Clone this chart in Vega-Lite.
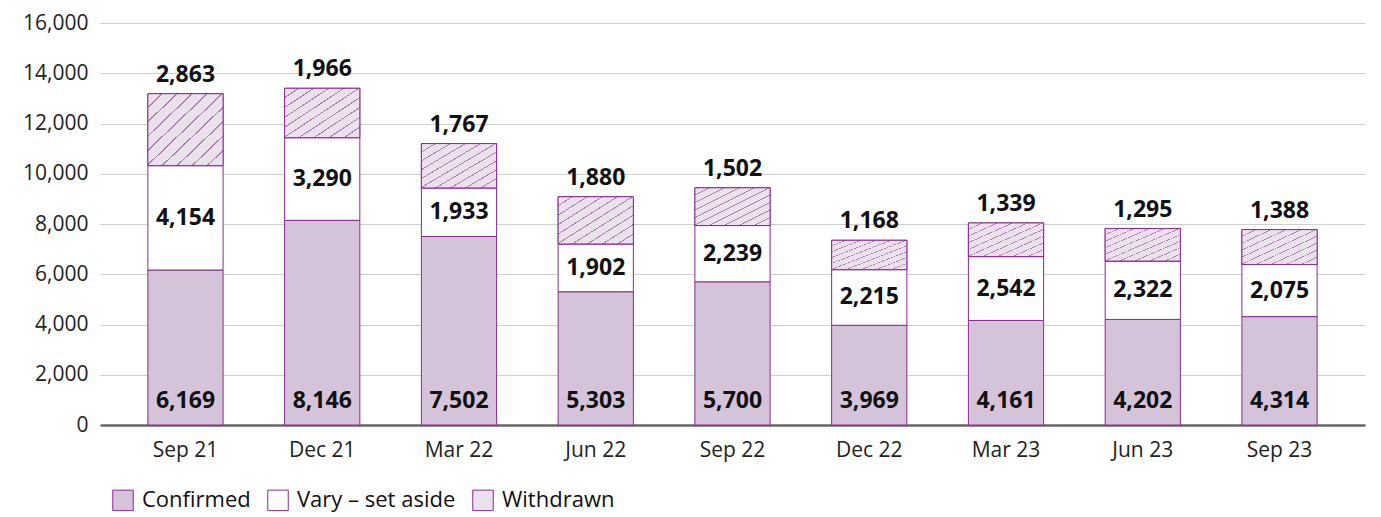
{
  "$schema": "https://vega.github.io/schema/vega-lite/v6.json",
  "width": 1265,
  "height": 402,
  "padding": {"left": 100, "top": 23, "right": 16, "bottom": 92},
  "autosize": {"type": "none"},
  "background": "white",
  "config": {
    "view": {"stroke": null},
    "font": "Open Sans"
  },
  "data": {
    "values": [
      {"quarter": "Sep 21", "series": "Confirmed", "value": 6169, "ord": 1},
      {"quarter": "Sep 21", "series": "Vary – set aside", "value": 4154, "ord": 2},
      {"quarter": "Sep 21", "series": "Withdrawn", "value": 2863, "ord": 3},
      {"quarter": "Dec 21", "series": "Confirmed", "value": 8146, "ord": 1},
      {"quarter": "Dec 21", "series": "Vary – set aside", "value": 3290, "ord": 2},
      {"quarter": "Dec 21", "series": "Withdrawn", "value": 1966, "ord": 3},
      {"quarter": "Mar 22", "series": "Confirmed", "value": 7502, "ord": 1},
      {"quarter": "Mar 22", "series": "Vary – set aside", "value": 1933, "ord": 2},
      {"quarter": "Mar 22", "series": "Withdrawn", "value": 1767, "ord": 3},
      {"quarter": "Jun 22", "series": "Confirmed", "value": 5303, "ord": 1},
      {"quarter": "Jun 22", "series": "Vary – set aside", "value": 1902, "ord": 2},
      {"quarter": "Jun 22", "series": "Withdrawn", "value": 1880, "ord": 3},
      {"quarter": "Sep 22", "series": "Confirmed", "value": 5700, "ord": 1},
      {"quarter": "Sep 22", "series": "Vary – set aside", "value": 2239, "ord": 2},
      {"quarter": "Sep 22", "series": "Withdrawn", "value": 1502, "ord": 3},
      {"quarter": "Dec 22", "series": "Confirmed", "value": 3969, "ord": 1},
      {"quarter": "Dec 22", "series": "Vary – set aside", "value": 2215, "ord": 2},
      {"quarter": "Dec 22", "series": "Withdrawn", "value": 1168, "ord": 3},
      {"quarter": "Mar 23", "series": "Confirmed", "value": 4161, "ord": 1},
      {"quarter": "Mar 23", "series": "Vary – set aside", "value": 2542, "ord": 2},
      {"quarter": "Mar 23", "series": "Withdrawn", "value": 1339, "ord": 3},
      {"quarter": "Jun 23", "series": "Confirmed", "value": 4202, "ord": 1},
      {"quarter": "Jun 23", "series": "Vary – set aside", "value": 2322, "ord": 2},
      {"quarter": "Jun 23", "series": "Withdrawn", "value": 1295, "ord": 3},
      {"quarter": "Sep 23", "series": "Confirmed", "value": 4314, "ord": 1},
      {"quarter": "Sep 23", "series": "Vary – set aside", "value": 2075, "ord": 2},
      {"quarter": "Sep 23", "series": "Withdrawn", "value": 1388, "ord": 3}
    ]
  },
  "transform": [
    {"stack": "value", "groupby": ["quarter"], "sort": [{"field": "ord", "order": "ascending"}], "as": ["s0", "s1"]}
  ],
  "encoding": {
    "x": {
      "field": "quarter", "type": "nominal", "sort": null,
      "scale": {"paddingInner": 0.45, "paddingOuter": 0.35},
      "axis": {"title": null, "labelAngle": 0, "ticks": false, "domainColor": "#666666", "domainWidth": 2.5, "labelPadding": 14, "labelFontSize": 21, "labelFont": "Open Sans", "labelColor": "#222222"}
    }
  },
  "layer": [
    {
      "mark": {"type": "bar", "stroke": "#8a2b8f", "strokeWidth": 1},
      "encoding": {
        "y": {
          "field": "s1", "type": "quantitative", "title": null,
          "scale": {"domain": [0, 16000]},
          "axis": {"values": [0,2000,4000,6000,8000,10000,12000,14000,16000], "labelExpr": "format(datum.value, ',')", "domain": false, "ticks": false, "labelPadding": 12, "gridColor": "#cfcfcf", "gridWidth": 1.2, "labelFontSize": 21, "labelFont": "Open Sans", "labelColor": "#222222", "title": null}
        },
        "y2": {"field": "s0"},
        "color": {
          "field": "series", "type": "nominal",
          "scale": {"domain": ["Confirmed", "Vary – set aside", "Withdrawn"], "range": ["#d5c4d9", "#ffffff", "#ebe1ed"]},
          "legend": {
            "title": null, "orient": "none", "legendX": 12, "legendY": 466, "direction": "horizontal",
            "symbolType": "square", "symbolSize": 420, "symbolStrokeColor": "#8a2b8f", "symbolStrokeWidth": 1,
            "labelFontSize": 22, "labelFont": "Open Sans", "labelColor": "#111111", "columnPadding": 14, "labelOffset": 8
          }
        }
      }
    },
    {
      "transform": [{"filter": "datum.series === 'Withdrawn'"}],
      "mark": {
        "type": "bar", "stroke": "#8a2b8f", "strokeWidth": 1,
        "fill": {
          "gradient": "linear", "x1": 0, "y1": 0, "x2": 1, "y2": 1,
          "stops": [
            {"offset": 0.0, "color": "#ebe1ed"}, {"offset": 0.088, "color": "#ebe1ed"}, {"offset": 0.088, "color": "#ad7fb0"}, {"offset": 0.1, "color": "#ad7fb0"},
            {"offset": 0.1, "color": "#ebe1ed"}, {"offset": 0.188, "color": "#ebe1ed"}, {"offset": 0.188, "color": "#ad7fb0"}, {"offset": 0.2, "color": "#ad7fb0"},
            {"offset": 0.2, "color": "#ebe1ed"}, {"offset": 0.288, "color": "#ebe1ed"}, {"offset": 0.288, "color": "#ad7fb0"}, {"offset": 0.3, "color": "#ad7fb0"},
            {"offset": 0.3, "color": "#ebe1ed"}, {"offset": 0.388, "color": "#ebe1ed"}, {"offset": 0.388, "color": "#ad7fb0"}, {"offset": 0.4, "color": "#ad7fb0"},
            {"offset": 0.4, "color": "#ebe1ed"}, {"offset": 0.488, "color": "#ebe1ed"}, {"offset": 0.488, "color": "#ad7fb0"}, {"offset": 0.5, "color": "#ad7fb0"},
            {"offset": 0.5, "color": "#ebe1ed"}, {"offset": 0.588, "color": "#ebe1ed"}, {"offset": 0.588, "color": "#ad7fb0"}, {"offset": 0.6, "color": "#ad7fb0"},
            {"offset": 0.6, "color": "#ebe1ed"}, {"offset": 0.688, "color": "#ebe1ed"}, {"offset": 0.688, "color": "#ad7fb0"}, {"offset": 0.7, "color": "#ad7fb0"},
            {"offset": 0.7, "color": "#ebe1ed"}, {"offset": 0.788, "color": "#ebe1ed"}, {"offset": 0.788, "color": "#ad7fb0"}, {"offset": 0.8, "color": "#ad7fb0"},
            {"offset": 0.8, "color": "#ebe1ed"}, {"offset": 0.888, "color": "#ebe1ed"}, {"offset": 0.888, "color": "#ad7fb0"}, {"offset": 0.9, "color": "#ad7fb0"},
            {"offset": 0.9, "color": "#ebe1ed"}, {"offset": 1.0, "color": "#ebe1ed"}
          ]
        }
      },
      "encoding": {
        "y": {"field": "s1", "type": "quantitative", "title": null,
          "axis": {"values": [0,2000,4000,6000,8000,10000,12000,14000,16000], "labelExpr": "format(datum.value, ',')", "domain": false, "ticks": false, "labelPadding": 12, "gridColor": "#cfcfcf", "gridWidth": 1.2, "labelFontSize": 21, "labelFont": "Open Sans", "labelColor": "#222222", "title": null}},
        "y2": {"field": "s0"}
      }
    },
    {
      "transform": [{"filter": "datum.series === 'Confirmed'"}],
      "mark": {"type": "text", "fontSize": 23, "fontWeight": "bold", "baseline": "alphabetic", "dy": -17, "color": "#111111"},
      "encoding": {
        "y": {"field": "s0", "type": "quantitative", "title": null,
          "axis": {"values": [0,2000,4000,6000,8000,10000,12000,14000,16000], "labelExpr": "format(datum.value, ',')", "domain": false, "ticks": false, "labelPadding": 12, "gridColor": "#cfcfcf", "gridWidth": 1.2, "labelFontSize": 21, "labelFont": "Open Sans", "labelColor": "#222222", "title": null}},
        "text": {"field": "value", "type": "quantitative", "format": ","}
      }
    },
    {
      "transform": [
        {"filter": "datum.series === 'Vary – set aside'"},
        {"fold": ["s0", "s1"], "as": ["edge", "pos"]},
        {"aggregate": [{"op": "mean", "field": "pos", "as": "mid"}, {"op": "max", "field": "value", "as": "v"}], "groupby": ["quarter"]}
      ],
      "mark": {"type": "text", "fontSize": 23, "fontWeight": "bold", "baseline": "middle", "color": "#111111"},
      "encoding": {
        "y": {"field": "mid", "type": "quantitative", "title": null,
          "axis": {"values": [0,2000,4000,6000,8000,10000,12000,14000,16000], "labelExpr": "format(datum.value, ',')", "domain": false, "ticks": false, "labelPadding": 12, "gridColor": "#cfcfcf", "gridWidth": 1.2, "labelFontSize": 21, "labelFont": "Open Sans", "labelColor": "#222222", "title": null}},
        "text": {"field": "v", "type": "quantitative", "format": ","}
      }
    },
    {
      "transform": [{"filter": "datum.series === 'Withdrawn'"}],
      "mark": {"type": "text", "fontSize": 23, "fontWeight": "bold", "baseline": "alphabetic", "dy": -12, "color": "#111111"},
      "encoding": {
        "y": {"field": "s1", "type": "quantitative", "title": null,
          "axis": {"values": [0,2000,4000,6000,8000,10000,12000,14000,16000], "labelExpr": "format(datum.value, ',')", "domain": false, "ticks": false, "labelPadding": 12, "gridColor": "#cfcfcf", "gridWidth": 1.2, "labelFontSize": 21, "labelFont": "Open Sans", "labelColor": "#222222", "title": null}},
        "text": {"field": "value", "type": "quantitative", "format": ","}
      }
    }
  ]
}
